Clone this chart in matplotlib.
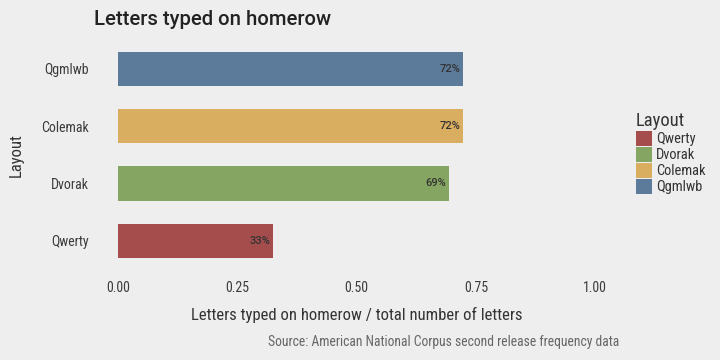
import matplotlib.pyplot as plt
from matplotlib.patches import Patch

# data
layouts = ['Qwerty', 'Dvorak', 'Colemak', 'Qgmlwb']
homerow_share = [0.325, 0.694, 0.723, 0.724]
pct_labels = ['33%', '69%', '72%', '72%']
colors = ['#a54d4d', '#85a662', '#daae61', '#5c7a99']
x_ticks = [0.0, 0.25, 0.5, 0.75, 1.0]
x_ticklabels = ['0.00', '0.25', '0.50', '0.75', '1.00']

plt.rcParams['font.family'] = ['Roboto Condensed', 'Roboto', 'DejaVu Sans']
bg = '#eeeeee'
txt = '#333333'

fig = plt.figure(figsize=(7.2, 3.6), dpi=100, facecolor=bg)
ax = fig.add_axes([0.1306, 0.236, 0.8597 - 0.1306, 0.904 - 0.236])
ax.set_facecolor(bg)

ypos = list(range(len(layouts)))
ax.barh(ypos, homerow_share, height=0.6, color=colors)
for y, v, lab in zip(ypos, homerow_share, pct_labels):
    ax.text(v - 0.006, y, lab, ha='right', va='center', fontsize=8,
            family=['Roboto', 'DejaVu Sans'], fontweight='medium', color=txt)

ax.set_xlim(-0.05, 1.05)
ax.set_ylim(-0.6, len(layouts) - 0.4)
ax.set_xticks(x_ticks)
ax.set_xticklabels(x_ticklabels)
ax.set_yticks(ypos)
ax.set_yticklabels(layouts)
ax.tick_params(length=0, labelsize=10, labelcolor='#3c3c3c', pad=4)
for s in ax.spines.values():
    s.set_visible(False)

ax.set_xlabel('Letters typed on homerow / total number of letters', fontsize=12,
              color=txt, labelpad=9)
ax.set_ylabel('Layout', fontsize=12, color=txt, labelpad=12)

fig.text(0.1306, 0.945, 'Letters typed on homerow', fontsize=14.6,
         family=['Roboto', 'DejaVu Sans'], fontweight='medium',
         color='#222222', ha='left', va='center')
fig.text(0.8597, 0.05, 'Source: American National Corpus second release frequency data',
         fontsize=9.8, color='#666666', ha='right', va='center')

handles = [Patch(facecolor=c, edgecolor='none') for c in colors]
leg = fig.legend(handles, layouts, title='Layout', loc='upper left',
                 bbox_to_anchor=(0.875, 0.705), frameon=False, fontsize=10.4,
                 title_fontsize=13.3, handlelength=1.1, handleheight=1.2,
                 handletextpad=0.3, labelspacing=0.05, borderaxespad=0,
                 labelcolor=txt)
leg.get_title().set_color(txt)
leg._legend_box.align = 'left'

fig.savefig('out.png', dpi=100, facecolor=bg)
